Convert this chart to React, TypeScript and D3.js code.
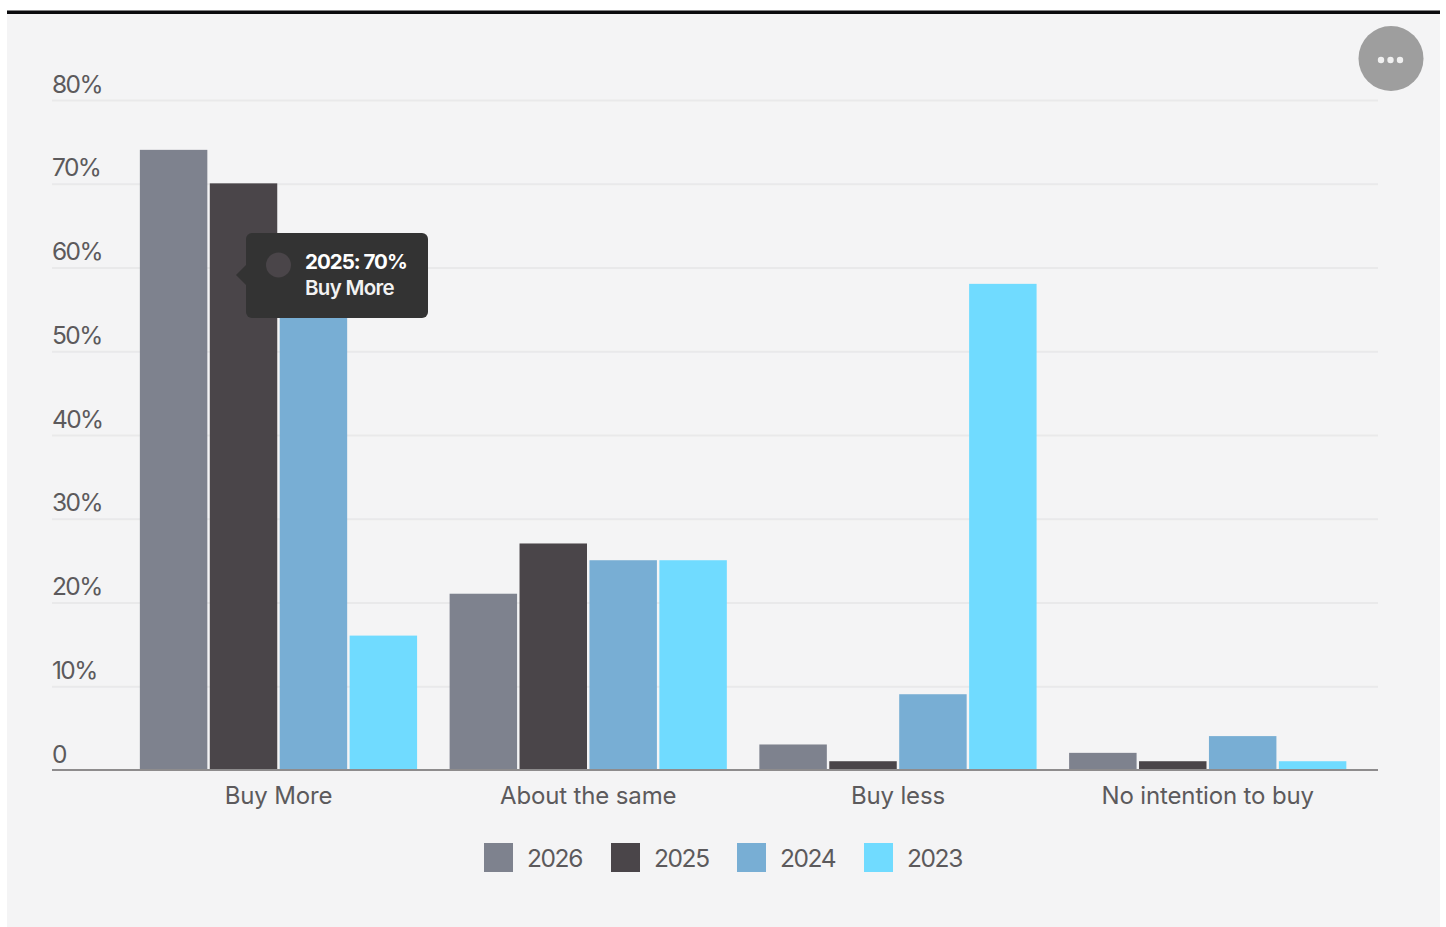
import React from "react";
import * as d3 from "d3";

const categories = ["Buy More", "About the same", "Buy less", "No intention to buy"];
const years = ["2026", "2025", "2024", "2023"];
const values2026 = [74, 21, 3, 2];
const values2025 = [70, 27, 1, 1];
const values2024 = [62, 25, 9, 4];
const values2023 = [16, 25, 58, 1];
const yTicks = [0, 10, 20, 30, 40, 50, 60, 70, 80];
const palette = ["#7e828e", "#4a4549", "#78aed4", "#70dbff"];

const seriesValues = [values2026, values2025, values2024, values2023];
const legendX = [484, 611, 737, 864];
const FONT = "Inter, 'Noto Sans', sans-serif";
const TEXT = "#5c5a5c";

export default function App() {
  const y = d3.scaleLinear().domain([0, 80]).range([769.6, 99.6]);
  const x0 = d3.scaleBand<string>().domain(categories).range([123.6, 1362.6]).paddingInner(0.105).paddingOuter(0.0525);
  const x1 = d3.scaleBand<string>().domain(years).range([0, x0.bandwidth()]).paddingInner(0.035);

  return (
    <svg width={1446} height={927} style={{ position: "absolute", left: 0, top: 0, display: "block" }} fontFamily={FONT}>
      <rect width={1446} height={927} fill="#ffffff" />
      <rect x={7} y={12} width={1433} height={915} fill="#f4f4f5" />
      <rect x={7} y={10.5} width={1433} height={3.5} fill="#0b0b0d" />

      {yTicks.slice(1).map((t) => (
        <line key={t} x1={52} x2={1378} y1={y(t) + 0.8} y2={y(t) + 0.8} stroke="#e9e9ea" strokeWidth={2} />
      ))}
      {yTicks.map((t) => (
        <text key={t} x={52} y={y(t) - 7} fontSize={24.5} fill={TEXT} letterSpacing={-1.6}>
          {t === 0 ? "0" : `${t}%`}
        </text>
      ))}

      {categories.map((c, i) => (
        <g key={c} transform={`translate(${x0(c)},0)`}>
          {years.map((yr, s) => (
            <rect
              key={yr}
              x={x1(yr)}
              y={y(seriesValues[s][i])}
              width={x1.bandwidth()}
              height={770 - y(seriesValues[s][i])}
              fill={palette[s]}
            />
          ))}
        </g>
      ))}

      <line x1={52} x2={1378} y1={770} y2={770} stroke="#8e8c8d" strokeWidth={2} />

      {categories.map((c) => (
        <text key={c} x={x0(c)! + x0.bandwidth() / 2} y={804} textAnchor="middle" fontSize={24} fill={TEXT} letterSpacing={-0.15}>
          {c}
        </text>
      ))}

      {years.map((yr, s) => (
        <g key={yr}>
          <rect x={legendX[s]} y={843} width={29} height={29} fill={palette[s]} />
          <text x={legendX[s] + 43} y={867} fontSize={24.5} fill={TEXT} letterSpacing={-1.4}>
            {yr}
          </text>
        </g>
      ))}

      {/* Hover tooltip for the 2025 "Buy More" bar */}
      <g>
        <path d="M246 265 L236 275 L246 285 Z" fill="#333333" />
        <rect x={246} y={233} width={182} height={85} rx={6} fill="#333333" />
        <circle cx={278.5} cy={265} r={12.5} fill={palette[1]} />
        <text x={305} y={269} fontSize={20.5} fontWeight={700} fill="#ffffff" letterSpacing={-1}>
          {`${years[1]}: ${values2025[0]}%`}
        </text>
        <text x={305} y={295} fontSize={20.5} fontWeight={600} fill="#f2f2f2" letterSpacing={-0.7}>
          {categories[0]}
        </text>
      </g>

      {/* Chart menu button */}
      <g>
        <circle cx={1391} cy={58.5} r={32.5} fill="#9e9e9e" />
        {[-9.5, 0, 9.5].map((d) => (
          <circle key={d} cx={1390.5 + d} cy={60} r={3.2} fill="#f0f0f0" />
        ))}
      </g>
    </svg>
  );
}
